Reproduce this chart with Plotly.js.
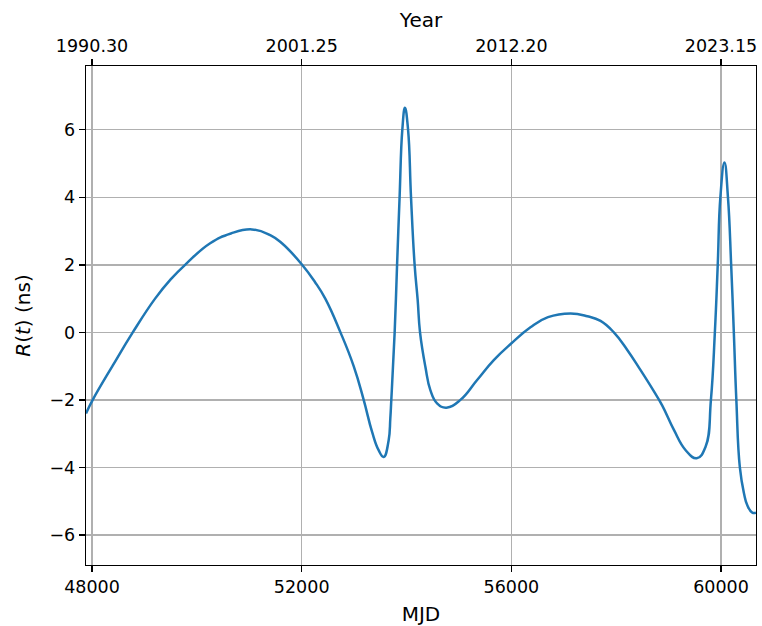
<!DOCTYPE html>
<html>
<head>
<meta charset="utf-8">
<script src="https://cdn.plot.ly/plotly-3.0.1.min.js"></script>
<style>html,body{margin:0;padding:0;background:#fff;}#chart{width:762px;height:626px;}</style>
</head>
<body>
<div id="chart"></div>
<script>
// MJD sample points
const mjd = [47885, 48013, 48400, 48777, 49203, 49500, 49795, 50254, 50650, 51050, 51400, 51623, 52000, 52250, 52450, 52740, 52992, 53183, 53342, 53468, 53564, 53659, 53691, 53710, 53774, 53820, 53868, 53920, 53970, 54030, 54086, 54155, 54213, 54258, 54360, 54455, 54583, 54761, 55028, 55347, 55665, 55997, 56365, 56700, 57129, 57450, 57702, 57956, 58212, 58466, 58721, 58880, 59102, 59326, 59536, 59706, 59808, 59883, 59938, 59988, 60066, 60133, 60194, 60245, 60293, 60360, 60439, 60502, 60597, 60668];
// R(t) in ns
const rns = [-2.40, -2.00, -0.97, 0.00, 1.00, 1.57, 2.03, 2.64, 2.93, 3.05, 2.88, 2.64, 2.02, 1.50, 1.00, 0.00, -1.00, -2.00, -2.94, -3.49, -3.69, -3.20, -2.55, -2.00, 0.00, 2.00, 4.00, 6.00, 6.65, 6.00, 4.00, 2.00, 0.96, 0.00, -1.02, -1.71, -2.10, -2.23, -2.00, -1.41, -0.82, -0.33, 0.15, 0.45, 0.56, 0.48, 0.34, 0.00, -0.52, -1.12, -1.75, -2.17, -2.89, -3.49, -3.73, -3.39, -2.00, 0.00, 2.00, 4.00, 5.03, 4.00, 2.00, 0.00, -2.00, -4.00, -4.77, -5.12, -5.34, -5.34];
// tick values and labels
const mjdTicks = [48000, 52000, 56000, 60000];
const yearLabels = ['1990.30', '2001.25', '2012.20', '2023.15'];
const yTicks = [-6, -4, -2, 0, 2, 4, 6];

const xRange = [47885, 60668];
const font = 'DejaVu Sans, Liberation Sans, sans-serif';

const traces = [
  {x: mjd, y: rns, type: 'scatter', mode: 'lines',
   line: {color: '#1f77b4', width: 2.5, shape: 'spline', smoothing: 1.3},
   xaxis: 'x', yaxis: 'y', hoverinfo: 'skip', showlegend: false},
  {x: mjd, y: rns, type: 'scatter', mode: 'lines',
   line: {color: 'rgba(0,0,0,0)', width: 0},
   xaxis: 'x2', yaxis: 'y', hoverinfo: 'skip', showlegend: false}
];

const layout = {
  width: 762, height: 626,
  margin: {l: 86, r: 6, t: 66, b: 61, pad: 0},
  paper_bgcolor: '#fff', plot_bgcolor: '#fff',
  font: {family: font, color: '#000', size: 17.5},
  showlegend: false,
  xaxis: {
    range: xRange, tickvals: mjdTicks, ticktext: mjdTicks.map(String),
    ticks: 'outside', ticklen: 6, tickwidth: 1.3, tickcolor: '#000',
    showline: true, linecolor: '#000', linewidth: 1.3, mirror: true,
    showgrid: true, gridcolor: '#b0b0b0', gridwidth: 1.3, zeroline: false,
    tickfont: {family: font, size: 17.5, color: '#000'},
    title: {text: 'MJD', font: {family: font, size: 20, color: '#000'}, standoff: 10},
    automargin: false
  },
  xaxis2: {
    overlaying: 'x', side: 'top', anchor: 'y',
    range: xRange, tickvals: mjdTicks, ticktext: yearLabels,
    ticks: 'outside', ticklen: 6, tickwidth: 1.3, tickcolor: '#000',
    showline: false, showgrid: false, zeroline: false,
    tickfont: {family: font, size: 17.5, color: '#000'},
    title: {text: 'Year', font: {family: font, size: 20, color: '#000'}, standoff: 3},
    automargin: false
  },
  yaxis: {
    range: [-6.89, 7.89], tickvals: yTicks,
    ticks: 'outside', ticklen: 6, tickwidth: 1.3, tickcolor: '#000',
    showline: true, linecolor: '#000', linewidth: 1.3, mirror: true,
    showgrid: true, gridcolor: '#b0b0b0', gridwidth: 1.3, zeroline: false,
    tickfont: {family: font, size: 17.5, color: '#000'},
    title: {text: '<i>R</i>(<i>t</i>) (ns)', font: {family: font, size: 20, color: '#000'}, standoff: 13},
    automargin: false
  }
};

Plotly.newPlot('chart', traces, layout, {staticPlot: true, displayModeBar: false});
</script>
</body>
</html>
